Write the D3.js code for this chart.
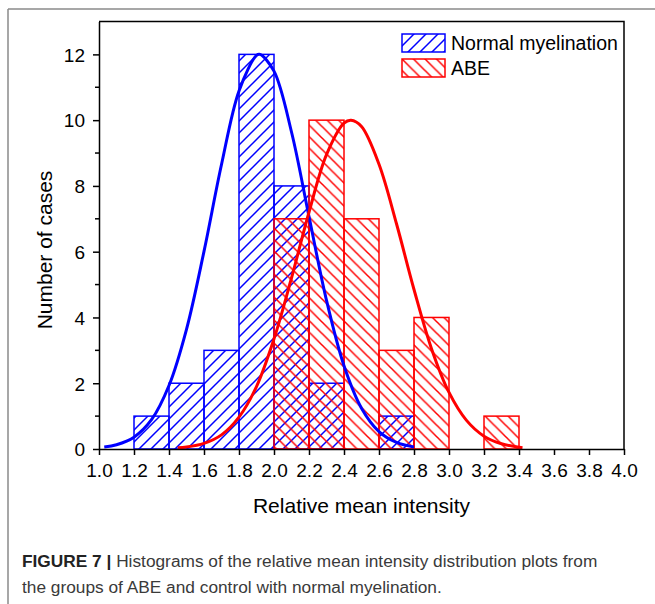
<!DOCTYPE html>
<html>
<head>
<meta charset="utf-8">
<script src="https://cdn.jsdelivr.net/npm/d3@7"></script>
<style>
  body { margin: 0; background: #fff; }
  svg { display: block; font-family: "Liberation Sans", Arial, sans-serif; }
</style>
</head>
<body>
<svg width="655" height="604"></svg>
<script>
// histogram bins (lower edge), width 0.2
var binLo = [1.2, 1.4, 1.6, 1.8, 2.0, 2.2, 2.4, 2.6, 2.8, 3.0, 3.2];
var binWidth = 0.2;
var normalCounts = [1, 2, 3, 12, 8, 2, 0, 1, 0, 0, 0];
var abeCounts = [0, 0, 0, 0, 7, 10, 7, 3, 4, 0, 1];

// fitted curves
var normalFitX = [1.03, 1.1, 1.2, 1.3, 1.4, 1.5, 1.6, 1.7, 1.8, 1.9, 1.92, 2.0, 2.1, 2.2, 2.3, 2.4, 2.5, 2.6, 2.7, 2.8];
var normalFitY = [0.06, 0.13, 0.36, 0.89, 1.93, 3.64, 6.01, 8.65, 10.89, 11.97, 12.0, 11.49, 9.64, 7.07, 4.52, 2.53, 1.24, 0.53, 0.2, 0.06];
var abeFitX = [1.45, 1.5, 1.6, 1.7, 1.8, 1.9, 2.0, 2.1, 2.2, 2.3, 2.4, 2.44, 2.5, 2.6, 2.7, 2.8, 2.9, 3.0, 3.1, 3.2, 3.3, 3.42];
var abeFitY = [0.04, 0.06, 0.17, 0.43, 0.97, 1.9, 3.35, 5.2, 7.2, 8.95, 9.91, 10.0, 9.81, 8.66, 6.85, 4.85, 3.05, 1.72, 0.87, 0.39, 0.16, 0.04];

var xTicks = [1.0, 1.2, 1.4, 1.6, 1.8, 2.0, 2.2, 2.4, 2.6, 2.8, 3.0, 3.2, 3.4, 3.6, 3.8, 4.0];
var yTicks = [0, 2, 4, 6, 8, 10, 12];
var yMinorTicks = [1, 3, 5, 7, 9, 11];
var seriesNames = ["Normal myelination", "ABE"];

var blue = "#0000ff", red = "#ff0000";

var svg = d3.select("svg");
var plotLeft = 99, plotRight = 624, plotTop = 21.5, plotBottom = 449;

var x = d3.scaleLinear().domain([1.0, 4.0]).range([plotLeft, plotRight]);
var y = d3.scaleLinear().domain([0, 13]).range([plotBottom, plotTop]);

// page frame
svg.append("line").attr("x1", 8).attr("x2", 8).attr("y1", 9).attr("y2", 604)
  .attr("stroke", "#8a8a8a").attr("stroke-width", 1.5);
svg.append("line").attr("x1", 8).attr("x2", 655).attr("y1", 9).attr("y2", 9)
  .attr("stroke", "#8a8a8a").attr("stroke-width", 1.5);

// hatch patterns
var defs = svg.append("defs");
function hatch(id, color, up, s) {
  var p = defs.append("pattern").attr("id", id)
    .attr("patternUnits", "userSpaceOnUse")
    .attr("width", s).attr("height", s);
  var d = up
    ? "M-1,1 l2,-2 M0," + s + " l" + s + ",-" + s + " M" + (s - 1) + "," + (s + 1) + " l2,-2"
    : "M-1," + (s - 1) + " l2,2 M0,0 l" + s + "," + s + " M" + (s - 1) + ",-1 l2,2";
  p.append("path").attr("d", d).attr("stroke", color).attr("stroke-width", 1.5).attr("fill", "none");
}
hatch("hatchBlue", blue, true, 12);
hatch("hatchRed", red, false, 11.5);

function drawBars(counts, color, pat) {
  var data = binLo.map(function(d, i) { return {lo: d, n: counts[i]}; })
    .filter(function(d) { return d.n > 0; });
  svg.append("g").selectAll("rect")
    .data(data)
    .enter()
    .append("rect")
    .attr("x", function(d) { return x(d.lo); })
    .attr("width", function(d) { return x(d.lo + binWidth) - x(d.lo); })
    .attr("y", function(d) { return y(d.n); })
    .attr("height", function(d) { return y(0) - y(d.n); })
    .attr("fill", "url(#" + pat + ")")
    .attr("stroke", color)
    .attr("stroke-width", 1.5);
}
drawBars(normalCounts, blue, "hatchBlue");
drawBars(abeCounts, red, "hatchRed");

var line = d3.line()
  .x(function(d) { return x(d[0]); })
  .y(function(d) { return y(d[1]); })
  .curve(d3.curveCatmullRom);

svg.append("path")
  .datum(d3.zip(normalFitX, normalFitY))
  .attr("d", line)
  .attr("fill", "none").attr("stroke", blue).attr("stroke-width", 3);
svg.append("path")
  .datum(d3.zip(abeFitX, abeFitY))
  .attr("d", line)
  .attr("fill", "none").attr("stroke", red).attr("stroke-width", 3);

// axes
var xAxis = svg.append("g")
  .attr("transform", "translate(0," + plotBottom + ")")
  .call(d3.axisBottom(x).tickValues(xTicks).tickFormat(d3.format(".1f")).tickSize(6).tickSizeOuter(0));
xAxis.selectAll("text").attr("dy", null).attr("y", 28)
  .attr("font-size", "19px").attr("fill", "#000").attr("font-family", "Liberation Sans, Arial, sans-serif");

var yAxis = svg.append("g")
  .attr("transform", "translate(" + plotLeft + ",0)")
  .call(d3.axisLeft(y).tickValues(yTicks).tickSize(6).tickSizeOuter(0));
yAxis.selectAll("text").attr("x", -14).attr("dy", "0.36em")
  .attr("font-size", "19px").attr("fill", "#000").attr("font-family", "Liberation Sans, Arial, sans-serif");

svg.append("g").selectAll("line")
  .data(yMinorTicks)
  .enter()
  .append("line")
  .attr("x1", plotLeft - 4).attr("x2", plotLeft)
  .attr("y1", function(d) { return y(d); })
  .attr("y2", function(d) { return y(d); })
  .attr("stroke", "#000").attr("stroke-width", 1.5);

svg.selectAll(".domain").attr("stroke-width", 1.5);
svg.selectAll(".tick line").attr("stroke-width", 1.5);

// top and right border
svg.append("path")
  .attr("d", "M" + plotLeft + "," + plotTop + " H" + plotRight + " V" + plotBottom)
  .attr("fill", "none").attr("stroke", "#000").attr("stroke-width", 1.5);

// axis titles
svg.append("text")
  .attr("x", (plotLeft + plotRight) / 2).attr("y", 513)
  .attr("text-anchor", "middle").attr("font-size", "21px")
  .text("Relative mean intensity");
svg.append("text")
  .attr("transform", "translate(52,250) rotate(-90)")
  .attr("text-anchor", "middle").attr("font-size", "21px")
  .text("Number of cases");

// legend
var legend = svg.append("g").selectAll("g")
  .data(seriesNames)
  .enter()
  .append("g")
  .attr("transform", function(d, i) { return "translate(402," + (34 + i * 25) + ")"; });
legend.append("rect")
  .attr("width", 43).attr("height", 18)
  .attr("fill", function(d, i) { return i === 0 ? "url(#hatchBlue)" : "url(#hatchRed)"; })
  .attr("stroke", function(d, i) { return i === 0 ? blue : red; })
  .attr("stroke-width", 1.5);
legend.append("text")
  .attr("x", 49).attr("y", 15.5)
  .attr("font-size", "19.5px")
  .text(function(d) { return d; });

// caption
var cap = svg.append("text").attr("x", 22).attr("y", 567)
  .attr("font-size", "17.3px").attr("fill", "#3a3a3a");
cap.append("tspan").attr("font-weight", "bold").attr("fill", "#222").text("FIGURE 7 | ");
cap.append("tspan").text("Histograms of the relative mean intensity distribution plots from");
svg.append("text").attr("x", 22).attr("y", 593)
  .attr("font-size", "17.3px").attr("fill", "#3a3a3a")
  .text("the groups of ABE and control with normal myelination.");
</script>
</body>
</html>
